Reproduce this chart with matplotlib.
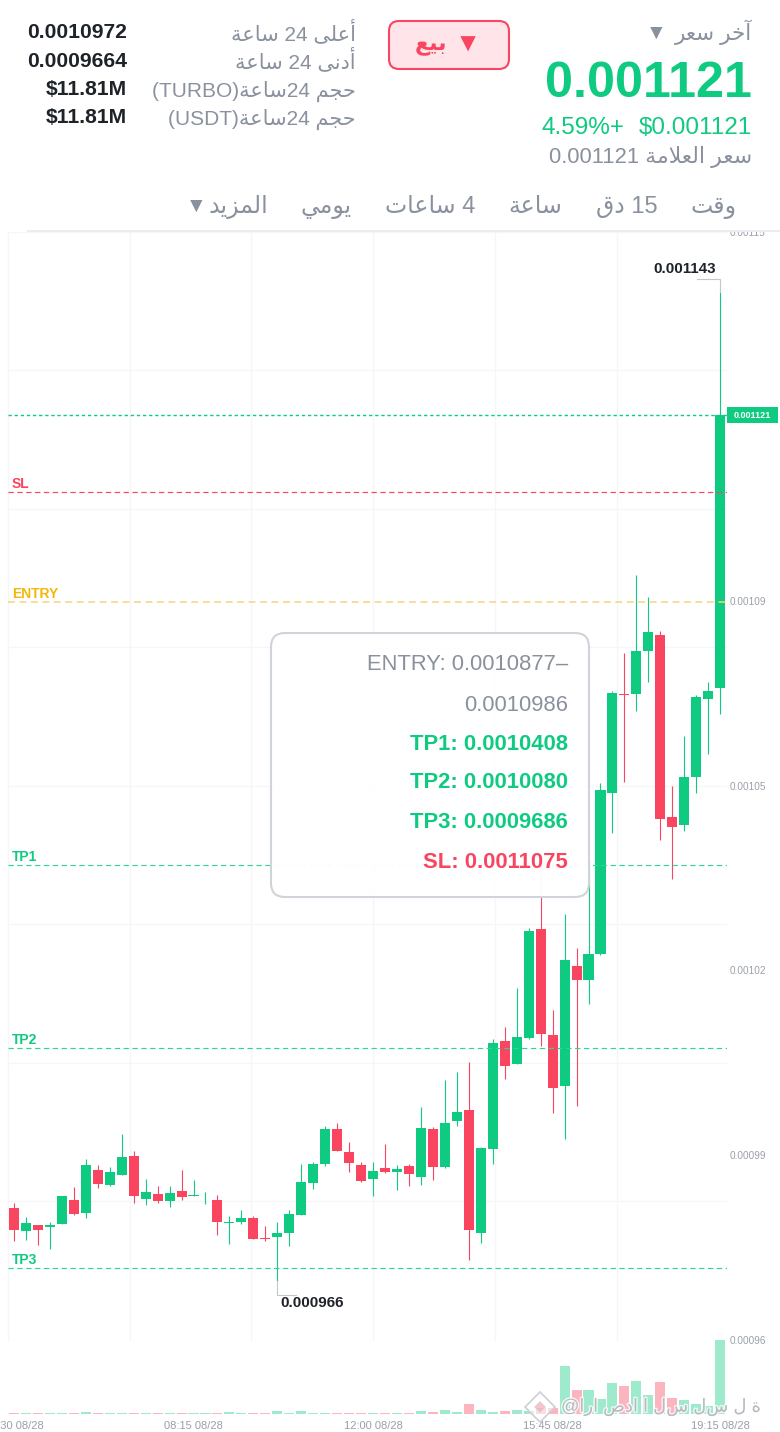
"""
Recreates the TURBO/USDT 15 min candle screen (Arabic UI) as a static PNG.
"""
import re

import matplotlib
matplotlib.use("Agg")
import matplotlib.pyplot as plt
import matplotlib.patheffects as pe
from matplotlib.patches import FancyBboxPatch, Rectangle, Polygon
import numpy as np

plt.rcParams["font.family"] = ["Liberation Sans", "DejaVu Sans"]

# Colors
C_UP = "#0ECB81"
C_DOWN = "#F9455F"
C_GRAY = "#8A919E"
C_DARK = "#1E2329"
C_GRID = "#F5F6F7"
C_YELLOW = "#F0B90B"

W, H = 780, 1432
PRICE_TOP, PRICE_BOTTOM = 1153.74, 955.52  # prices are in units of 1e-6

# ── Data ──────────────────────────────────────────────────────────────────────
opens = [979.1, 975.0, 976.0, 975.7, 976.3, 980.6, 978.2, 986.0, 983.2, 985.0,
         988.4, 980.7, 981.6, 980.4, 982.2, 981.2, 981.0, 980.6, 976.4, 976.6,
         977.3, 973.8, 974.0, 974.7, 977.9, 983.6, 987.0, 993.2, 989.2, 986.8,
         984.3, 986.3, 985.6, 986.6, 984.7, 993.3, 986.5, 994.7, 996.7, 974.7,
         989.7, 1009.0, 1004.8, 1009.6, 1029.1, 1010.1, 1001.0, 1022.5, 1019.9, 1024.5,
         1053.3, 1071.1, 1071.1, 1078.7, 1081.6, 1049.0, 1047.6, 1056.3, 1070.1, 1072.2]
highs = [980.1, 977.5, 976.1, 976.6, 981.3, 982.9, 987.9, 986.8, 986.5, 992.4,
         989.3, 984.3, 983.0, 983.1, 985.9, 984.1, 982.0, 981.5, 977.7, 978.7,
         977.7, 975.9, 976.6, 978.8, 987.0, 987.4, 993.8, 994.3, 990.9, 987.4,
         987.4, 990.6, 986.8, 987.0, 997.1, 993.6, 1002.0, 1003.5, 1005.2, 990.1,
         1009.4, 1011.5, 1018.5, 1029.3, 1040.0, 1014.6, 1031.8, 1025.6, 1041.4, 1055.1,
         1071.6, 1078.4, 1092.4, 1088.4, 1082.3, 1054.6, 1063.6, 1070.9, 1073.2, 1143.0]
lows = [973.2, 973.4, 972.5, 971.8, 976.3, 977.9, 977.4, 982.7, 983.1, 985.0,
        980.1, 979.7, 980.1, 979.3, 980.6, 981.2, 979.8, 974.2, 972.6, 976.3,
        973.5, 973.3, 966.1, 972.3, 977.9, 982.5, 986.6, 989.3, 985.6, 983.8,
        981.2, 985.4, 982.4, 983.1, 983.3, 984.1, 986.2, 993.7, 969.8, 972.9,
        987.0, 1002.2, 1004.8, 1009.4, 1008.1, 996.2, 991.5, 997.3, 1015.6, 1024.3,
        1046.3, 1055.4, 1068.1, 1073.2, 1045.0, 1038.0, 1046.6, 1053.4, 1060.4, 1067.5]
closes = [975.2, 976.4, 975.2, 976.1, 981.3, 978.1, 986.8, 983.4, 985.6, 988.3,
          981.3, 981.9, 980.3, 981.8, 981.1, 981.4, 981.1, 976.6, 976.6, 977.3,
          973.5, 973.5, 974.7, 978.1, 983.7, 987.0, 993.2, 989.3, 987.1, 984.0,
          985.7, 985.6, 986.1, 985.2, 993.4, 986.5, 994.3, 996.3, 975.1, 989.8,
          1008.7, 1004.5, 1009.8, 1028.7, 1010.3, 1000.5, 1023.4, 1019.9, 1024.5, 1053.9,
          1071.3, 1070.9, 1078.8, 1082.1, 1048.8, 1047.3, 1056.2, 1070.5, 1071.7, 1121.0]
volumes = [0.8, 0.7, 0.7, 0.7, 0.7, 0.7, 2.0, 0.7, 0.7, 0.7,
           0.8, 0.7, 0.7, 0.7, 0.8, 0.7, 0.7, 1.0, 1.7, 0.7,
           0.8, 0.8, 2.7, 0.7, 2.7, 1.0, 1.0, 0.8, 0.7, 0.7,
           1.2, 1.0, 0.7, 0.8, 3.0, 2.0, 3.7, 2.0, 9.7, 3.7,
           2.0, 3.0, 4.0, 3.3, 6.0, 5.7, 48.0, 24.0, 24.3, 15.0,
           31.0, 28.0, 32.7, 19.0, 31.7, 16.0, 14.0, 10.0, 8.0, 74.0]

level_names = ["SL", "ENTRY", "TP1", "TP2", "TP3"]
level_prices = [1107.2, 1087.5, 1040.5, 1007.8, 968.4]
level_colors = [C_DOWN, "#F5D67A", "#2FD596", "#2FD596", "#2FD596"]
label_colors = [C_DOWN, C_YELLOW, C_UP, C_UP, C_UP]
last_price = 1121.0

price_ticks = [1153.7, 1087.7, 1054.6, 1021.7, 988.6, 955.5]
price_labels = ["0.00115", "0.00109", "0.00105", "0.00102", "0.00099", "0.00096"]
time_ticks = [0, 15, 30, 45, 59]
time_labels = ["04:30 08/28", "08:15 08/28", "12:00 08/28", "15:45 08/28", "19:15 08/28"]

stat_labels = ["أعلى 24 ساعة", "أدنى 24 ساعة", "حجم 24ساعة(TURBO)", "حجم 24ساعة(USDT)"]
stat_values = ["0.0010972", "0.0009664", "$11.81M", "$11.81M"]
stat_label_rows = [40, 68, 97, 125]
stat_value_rows = [38, 67, 95, 123]
tab_labels = ["وقت", "15 دق", "ساعة", "4 ساعات", "يومي", "المزيد"]
tab_centers = [713, 626.5, 535, 430.5, 326.5, 238]
tip_lines = [("ENTRY: 0.0010877–", C_GRAY, "normal"), ("0.0010986", C_GRAY, "normal"),
             ("TP1: 0.0010408", C_UP, "bold"), ("TP2: 0.0010080", C_UP, "bold"),
             ("TP3: 0.0009686", C_UP, "bold"), ("SL: 0.0011075", C_DOWN, "bold")]
tip_rows = [670, 711, 750, 788, 828, 868]


# ── Arabic shaping, matplotlib lays text out left to right without joining ─────
FORMS = {"ا": 0xFE8D, "آ": 0xFE81, "أ": 0xFE83, "ب": 0xFE8F, "ت": 0xFE95, "ة": 0xFE93,
         "ج": 0xFE9D, "ح": 0xFEA1, "خ": 0xFEA5, "د": 0xFEA9, "ر": 0xFEAD, "ز": 0xFEAF,
         "س": 0xFEB1, "ع": 0xFEC9, "ق": 0xFED5, "ل": 0xFEDD, "م": 0xFEE1, "ن": 0xFEE5,
         "ه": 0xFEE9, "و": 0xFEED, "ى": 0xFEEF, "ي": 0xFEF1}
DUAL = set("بتجحخسعقلمنهي")


def shape(s):
    s = s.replace("لا", "\uFEFB")
    out = ""
    for i, ch in enumerate(s):
        prev_joins = i > 0 and s[i - 1] in DUAL
        next_joins = ch in DUAL and i + 1 < len(s) and (s[i + 1] in FORMS or s[i + 1] == "\uFEFB")
        if ch == "\uFEFB":
            out += "\uFEFC" if prev_joins else ch
        elif ch in FORMS:
            out += chr(FORMS[ch] + (int(prev_joins) + 2 * int(next_joins) if ch in DUAL else int(prev_joins)))
        else:
            out += ch
    return out


def ar(s):
    parts = re.findall(r"[\u0600-\u06ff ]+|[^\u0600-\u06ff ]+", s)
    return "".join(shape(p)[::-1] if re.match(r"[\u0600-\u06ff ]", p) else p for p in reversed(parts))


# ── Figure and axes, laid out in pixels ───────────────────────────────────────
fig = plt.figure(figsize=(W / 100, H / 100), dpi=100, facecolor="white")


def px_axes(x0, y0, x1, y1):
    return fig.add_axes([x0 / W, 1 - y1 / H, (x1 - x0) / W, (y1 - y0) / H])


ax = px_axes(8, 232, 727, 1340)
ax_v = px_axes(8, 1340, 727, 1414)
top = px_axes(0, 0, W, H)
top.set_xlim(0, W)
top.set_ylim(H, 0)
top.axis("off")
top.patch.set_alpha(0)

x = np.arange(len(opens))
o, h, l, c = map(np.array, (opens, highs, lows, closes))
colors = [C_UP if b >= a else C_DOWN for a, b in zip(o, c)]
xlim = (-0.5, 59.57)

# Grid
for a in (ax, ax_v):
    for s in a.spines.values():
        s.set_visible(False)
    a.set_xlim(*xlim)
ax.set_ylim(PRICE_BOTTOM, PRICE_TOP)
for gy in np.linspace(PRICE_BOTTOM, PRICE_TOP, 9):
    ax.axhline(gy, color=C_GRID, lw=0.9, zorder=0)
for gx in np.arange(6) * 10.17 - 0.5:
    ax.axvline(gx, color=C_GRID, lw=0.9, zorder=0, clip_on=False)

# Candles
ax.vlines(x, l, h, colors=colors, lw=0.8, zorder=2)
ax.bar(x, np.abs(c - o), bottom=np.minimum(o, c), width=0.84, color=colors, linewidth=0, zorder=3)

# Levels
ax.axhline(last_price, color=C_UP, lw=1.0, dashes=(2.4, 2.0), zorder=4)
for name, price, col, lcol in zip(level_names, level_prices, level_colors, label_colors):
    ax.axhline(price, color=col, lw=1.1 if name == "ENTRY" else 0.85, dashes=(4.5, 3), zorder=4)
    ax.annotate(name, (-0.17, price), xytext=(0, 5.6), textcoords="offset points", color=lcol,
                fontsize=10, fontweight="bold", va="center", ha="left", zorder=5)

# High / low callouts
i_hi = int(np.argmax(h))
i_lo = int(np.argmin(l))
ax.plot([i_hi - 1.95, i_hi, i_hi], [h[i_hi] + 2.3, h[i_hi] + 2.3, h[i_hi]], color="#C4C7CC", lw=0.8, zorder=2)
ax.text(i_hi - 0.35, h[i_hi] + 4.2, f"0.00{h[i_hi]:.0f}", color=C_DARK, fontsize=10.9,
        fontweight="bold", ha="right", va="center")
ax.plot([i_lo, i_lo, i_lo + 1.6], [l[i_lo], l[i_lo] - 2.5, l[i_lo] - 2.5], color="#C4C7CC", lw=0.8, zorder=2)
ax.text(i_lo + 0.27, l[i_lo] - 3.95, f"0.000{l[i_lo]:.0f}", color=C_DARK, fontsize=11,
        fontweight="bold", ha="left", va="center")

# Price axis
ax.yaxis.tick_right()
ax.set_yticks(price_ticks, price_labels)
ax.tick_params(axis="y", length=0, pad=2.2, labelsize=7.2, labelcolor="#9AA0A8")
ax.set_xticks([])

# Volume
ax_v.bar(x, volumes, width=0.84, color=colors, alpha=0.4, linewidth=0)
ax_v.set_ylim(0, 74)
ax_v.set_yticks([])
ax_v.set_xticks(time_ticks, time_labels)
ax_v.tick_params(axis="x", length=0, pad=5, labelsize=8, labelcolor="#9AA0A8")
ax_v.patch.set_alpha(0)

# ── Header ────────────────────────────────────────────────────────────────────
top.add_patch(Rectangle((0, 0), W, 231, facecolor="white", linewidth=0))
top.plot([28, W], [231, 231], color="#EAECEF", lw=1.4)

for lab, val, ly, vy in zip(stat_labels, stat_values, stat_label_rows, stat_value_rows):
    top.text(356, ly, ar(lab), color=C_GRAY, fontsize=15, ha="right", va="baseline")
    top.text(127, vy, val, color=C_DARK, fontsize=15.2, fontweight="bold", ha="right", va="baseline")

top.add_patch(FancyBboxPatch((389, 21), 120, 48, boxstyle="round,pad=0,rounding_size=10",
                             facecolor="#FFE5E9", edgecolor=C_DOWN, linewidth=1.5))
top.text(447, 46, ar("بيع"), color=C_DOWN, fontsize=16, fontweight="bold", ha="right", va="center")
top.text(468, 45, "▼", color=C_DOWN, fontsize=19, ha="center", va="center")

top.text(752, 40, ar("آخر سعر"), color=C_GRAY, fontsize=15.5, ha="right", va="baseline")
top.text(656, 33, "▼", color=C_GRAY, fontsize=15, ha="center", va="center")
top.text(752, 97, "0.001121", color=C_UP, fontsize=36.2, fontweight="bold", ha="right", va="baseline")
top.text(752, 134, "$0.001121", color=C_UP, fontsize=17.5, ha="right", va="baseline")
top.text(625, 134, "4.59%+", color=C_UP, fontsize=17.5, ha="right", va="baseline")
top.text(752, 163, ar("سعر العلامة 0.001121"), color=C_GRAY, fontsize=15.8, ha="right", va="baseline")

for lab, cx in zip(tab_labels, tab_centers):
    top.text(cx, 213, ar(lab), color=C_GRAY, fontsize=17, ha="center", va="baseline")
top.text(196, 206, "▼", color=C_GRAY, fontsize=15, ha="center", va="center")

# Last price tag
top.add_patch(Rectangle((727, 407), 51, 16, facecolor=C_UP, linewidth=0))
top.text(752.5, 415.5, "0.001121", color="white", fontsize=6.5, fontweight="bold", ha="center", va="center")

# ── Tooltip ───────────────────────────────────────────────────────────────────
top.add_patch(FancyBboxPatch((271, 633), 318, 264, boxstyle="round,pad=0,rounding_size=14",
                             facecolor=(1, 1, 1, 0.97), edgecolor="#D0D4DA", linewidth=1.5))
for (txt, col, weight), row_y in zip(tip_lines, tip_rows):
    top.text(568, row_y, txt, color=col, fontsize=15.8, fontweight=weight, ha="right", va="baseline")

# ── Watermark ─────────────────────────────────────────────────────────────────
stroke = [pe.withStroke(linewidth=2, foreground=(1, 1, 1, 0.5))]
top.text(561, 1407, "@ارا صدا ا لس لس ل ة", color="#A9ADB3", alpha=0.8, fontsize=13,
         ha="left", va="center", path_effects=stroke)
top.add_patch(Polygon([(540, 1392), (555, 1407), (540, 1422), (525, 1407)], closed=True,
                      facecolor=(1, 1, 1, 0.55), edgecolor="#CDD0D5", linewidth=1.2))
top.add_patch(Polygon([(540, 1402), (545, 1407), (540, 1412), (535, 1407)], closed=True,
                      facecolor=(0.98, 0.6, 0.65, 0.6), edgecolor="#CDD0D5", linewidth=0.8))

plt.savefig("out.png", dpi=100, facecolor="white")
plt.close()
